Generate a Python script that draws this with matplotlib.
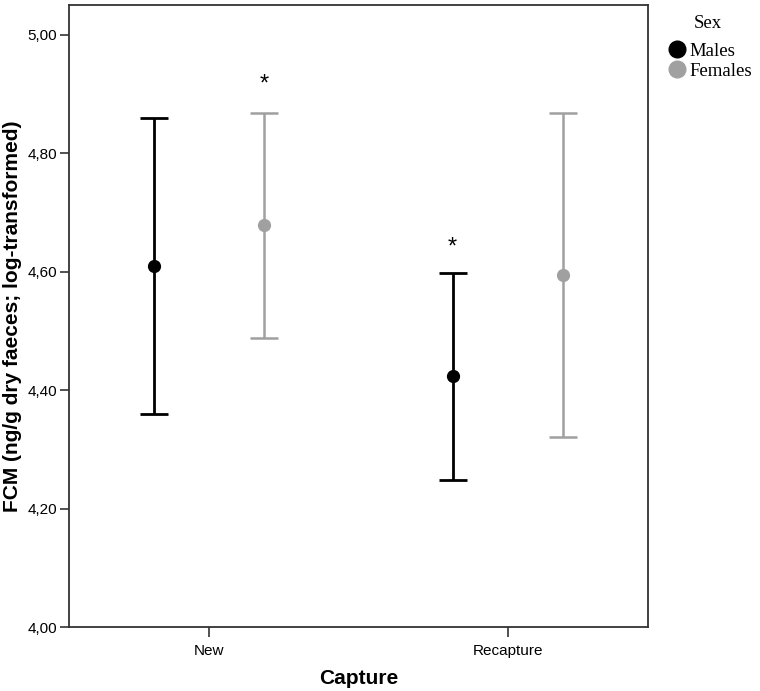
import numpy as np
import matplotlib
matplotlib.use("Agg")
import matplotlib.pyplot as plt
from matplotlib.ticker import FuncFormatter
from matplotlib.lines import Line2D

plt.rcParams['font.family'] = ['Liberation Sans', 'DejaVu Sans']

captures = ['New', 'Recapture']
male_mean = [4.610, 4.424]
male_lo = [4.360, 4.248]
male_hi = [4.860, 4.598]
female_mean = [4.678, 4.595]
female_lo = [4.488, 4.321]
female_hi = [4.868, 4.868]
stars_y = [4.915, 4.640]

male_col = 'black'
female_col = '#a0a0a0'
off = 0.185

fig = plt.figure(figsize=(7.6, 6.91), dpi=100)
ax = fig.add_axes([0.0908, 0.0926, 0.7618, 0.9002])

x = np.arange(len(captures))
for xs, m, lo, hi, c, lw in [(x - off, male_mean, male_lo, male_hi, male_col, 2.0),
                              (x + off, female_mean, female_lo, female_hi, female_col, 1.8)]:
    m = np.array(m)
    err = [m - np.array(lo), np.array(hi) - m]
    ax.errorbar(xs, m, yerr=err, fmt='o', color=c, ecolor=c, elinewidth=lw,
                capsize=10, capthick=lw, markersize=8.5, zorder=3)

# significance markers
ax.text(x[0] + off, stars_y[0], '*', ha='center', va='center', fontsize=17)
ax.text(x[1] - off, stars_y[1], '*', ha='center', va='center', fontsize=17)

ax.set_xlim(-0.468, 1.468)
ax.set_ylim(4.0, 5.05)
ax.set_xticks(x)
ax.set_xticklabels(captures)
ax.set_yticks([4.0, 4.2, 4.4, 4.6, 4.8, 5.0])
ax.yaxis.set_major_formatter(FuncFormatter(lambda v, p: ('%.2f' % v).replace('.', ',')))
ax.tick_params(axis='both', labelsize=11, direction='out', width=1.2, color='#333333')
ax.tick_params(axis='x', length=7, pad=5)
ax.tick_params(axis='y', length=6.5, pad=2)

for s in ax.spines.values():
    s.set_color('#333333')
    s.set_linewidth(1.3)

ax.set_xlabel('Capture', fontsize=15, fontweight='bold', labelpad=8)
ax.set_ylabel('FCM (ng/g dry faeces; log-transformed)', fontsize=15, fontweight='bold', labelpad=4)

# legend (title drawn separately to match spacing)
fig.text(708 / 760, 1 - 24 / 691, 'Sex', ha='center', va='center',
         family='Liberation Serif', fontsize=13.5)
handles = [Line2D([], [], marker='o', ls='', color=male_col, markersize=12, label='Males'),
           Line2D([], [], marker='o', ls='', color=female_col, markersize=12, label='Females')]
leg = fig.legend(handles=handles, loc='upper left', bbox_to_anchor=(0.862, 0.952),
                 frameon=False, prop={'family': 'Liberation Serif', 'size': 13.5},
                 handletextpad=0.05, labelspacing=0.15, borderpad=0.0, handlelength=1.3)

fig.savefig('out.png', dpi=100)
